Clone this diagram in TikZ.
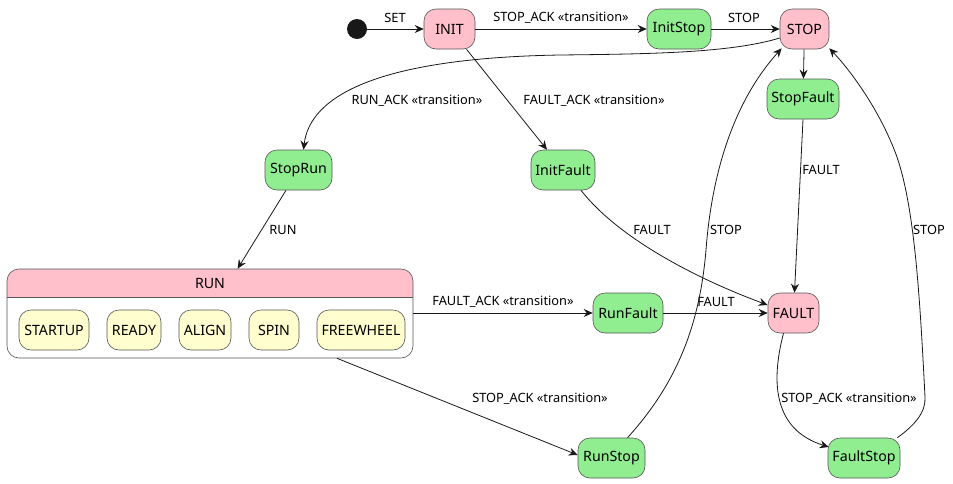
\documentclass[tikz,border=0pt]{standalone}
\usepackage{fontspec}
\setmainfont{Noto Sans}
\usetikzlibrary{arrows.meta,calc}
\definecolor{spink}{HTML}{FFC0CB}
\definecolor{sgreen}{HTML}{90EE90}
\definecolor{syellow}{HTML}{FEFECE}
\definecolor{sline}{HTML}{181818}
\definecolor{sborder}{HTML}{555555}
\begin{document}
\begin{tikzpicture}[x=1pt,y=-1pt,
  st/.style={draw=sborder,line width=0.6pt,rounded corners=12pt,minimum height=40pt,inner sep=0pt,font=\fontsize{14.2}{16}\selectfont,text=black},
  pinkst/.style={st,fill=spink},
  greenst/.style={st,fill=sgreen},
  yelst/.style={st,fill=syellow},
  tr/.style={draw=sline,line width=0.8pt,-{Stealth[length=9pt,width=8pt,inset=3pt]}},
  lbl/.style={font=\fontsize{12.8}{14}\selectfont,inner sep=0pt,text=black}]
\useasboundingbox (0,0) rectangle (953,483);
% states
\node[circle,fill=sline,minimum size=20pt,inner sep=0pt] (start) at (357,29) {};
\node[pinkst,minimum width=51pt] (init) at (449.5,29) {INIT};
\node[greenst,minimum width=64pt] (initstop) at (679,29) {InitStop};
\node[pinkst,minimum width=49pt] (stop) at (804.5,29) {STOP};
\node[greenst,minimum width=72pt] (stopfault) at (803,99) {StopFault};
\node[greenst,minimum width=67pt] (stoprun) at (298.5,170) {StopRun};
\node[greenst,minimum width=64pt] (initfault) at (563,170) {InitFault};
\node[greenst,minimum width=70pt] (runfault) at (628,313) {RunFault};
\node[pinkst,minimum width=51pt] (fault) at (793.5,313) {FAULT};
\node[greenst,minimum width=67pt] (runstop) at (611.5,458) {RunStop};
\node[greenst,minimum width=72pt] (faultstop) at (864,458) {FaultStop};
% composite RUN
\begin{scope}
\clip (7,269) rectangle (413,297);
\fill[spink,rounded corners=12pt] (7,269) rectangle (413,358);
\end{scope}
\node[draw=sborder,line width=0.6pt,rounded corners=12pt,minimum width=406pt,minimum height=89pt,inner sep=0pt] (run) at (210,313.5) {};
\draw[sborder,line width=0.6pt] (run.west |- 0,297) -- (run.east |- 0,297);
\node[font=\fontsize{14.2}{16}\selectfont,inner sep=0pt] (runtitle) at (210,283) {RUN};
\node[yelst,minimum width=70pt] (startup) at (54,330) {STARTUP};
\node[yelst,minimum width=54pt] (ready) at (134,330) {READY};
\node[yelst,minimum width=52pt] (align) at (205,330) {ALIGN};
\node[yelst,minimum width=50pt] (spin) at (274,330) {SPIN};
\node[yelst,minimum width=88pt] (freewheel) at (361,330) {FREEWHEEL};
% transitions
\draw[tr] (start) -- (init);
\node[lbl] (l1) at (395,18) {SET};
\draw[tr] (init) -- (initstop);
\node[lbl] (l2) at (561,18) {STOP\_ACK «transition»};
\draw[tr] (initstop) -- (stop);
\node[lbl] (l3) at (744,18) {STOP};
\draw[tr] (stop.200) .. controls (730,53) and (650,54) .. (560,55)
  .. controls (380,58) and (310,95) .. ([xshift=5pt]stoprun.north);
\node[lbl] (l4) at (417,101) {RUN\_ACK «transition»};
\draw[tr] ([xshift=17pt]init.south) -- ([xshift=-16pt]initfault.north);
\node[lbl] (l5) at (594,101) {FAULT\_ACK «transition»};
\draw[tr] (stop) -- (stopfault);
\draw[tr] (stopfault.south) -- ([xshift=1pt]fault.north);
\node[lbl] (l6) at (821,170) {FAULT};
\draw[tr] ([xshift=18pt]initfault.south) .. controls (620,240) and (700,280) .. ([yshift=8pt]fault.west);
\node[lbl] (l7) at (652,230) {FAULT};
\draw[tr] (stoprun) -- (run);
\node[lbl] (l8) at (283,230) {RUN};
\draw[tr] (run.east |- runfault.west) -- (runfault.west);
\node[lbl] (l9) at (503,302) {FAULT\_ACK «transition»};
\draw[tr] (runfault) -- (fault);
\node[lbl] (l10) at (716,302) {FAULT};
\draw[tr] ([xshift=127pt]run.south) -- ([yshift=3pt]runstop.west);
\node[lbl] (l11) at (540,399) {STOP\_ACK «transition»};
\draw[tr] ([xshift=16pt]runstop.north) .. controls (680,380) and (700,320) .. (706,250)
  .. controls (712,170) and (735,100) .. ([xshift=2pt,yshift=1pt]stop.south west);
\node[lbl] (l12) at (726,230) {STOP};
\draw[tr] ([xshift=-10pt]fault.south) .. controls (770,385) and (775,430) .. ([xshift=1pt,yshift=11pt]faultstop.west);
\node[lbl] (l13) at (849,399) {STOP\_ACK «transition»};
\draw[tr] ([xshift=-3pt]faultstop.north east) .. controls (915,425) and (926,412) .. (925,397)
  .. controls (920,300) and (915,210) .. (897,157)
  .. controls (880,110) and (850,70) .. ([xshift=0pt,yshift=1pt]stop.south east);
\node[lbl] (l14) at (929,230) {STOP};
\end{tikzpicture}
\end{document}
